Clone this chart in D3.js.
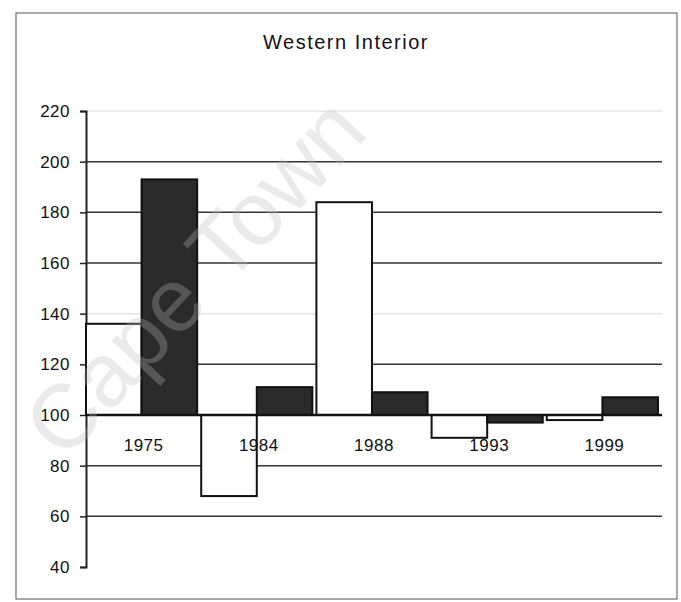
<!DOCTYPE html>
<html>
<head>
<meta charset="utf-8">
<script src="https://cdn.jsdelivr.net/npm/d3@7"></script>
<style>
  body { margin: 0; background: #fff; }
  text { font-family: "Liberation Sans", Arial, sans-serif; }
</style>
</head>
<body>
<div id="chart"></div>
<script>
// values (baseline 100)
var years = ["1975", "1984", "1988", "1993", "1999"];
var whiteSeries = [136, 68, 184, 91, 98];
var darkSeries = [193, 111, 109, 97, 107];
var yTicks = [40, 60, 80, 100, 120, 140, 160, 180, 200, 220];
var title = "Western Interior";

var width = 681, height = 602;
var plotL = 86, plotR = 662, plotT = 111, plotB = 567;

var svg = d3.select("#chart").append("svg")
    .attr("width", width)
    .attr("height", height);

// outer frame
svg.append("rect")
    .attr("x", 16).attr("y", 13)
    .attr("width", 661).attr("height", 586)
    .attr("fill", "none")
    .attr("stroke", "#555")
    .attr("stroke-width", 1);

var y = d3.scaleLinear().domain([40, 220]).range([plotB, plotT]);
var x0 = d3.scaleBand().domain(years).range([plotL, plotR]).paddingInner(0).paddingOuter(0);
var x1 = d3.scaleBand().domain(["w", "d"]).range([0, x0.bandwidth() * 0.965]).padding(0);

// gridlines
svg.append("g").selectAll("line")
    .data(yTicks.filter(function(d) { return d > 40 && d != 100; }))
    .enter().append("line")
    .attr("x1", plotL).attr("x2", plotR)
    .attr("y1", function(d) { return y(d); })
    .attr("y2", function(d) { return y(d); })
    .attr("stroke", function(d) { return (d == 140 || d == 220) ? "#e4e4e4" : "#333"; })
    .attr("stroke-width", 1.5);

// y axis
var yAxis = d3.axisLeft(y).tickValues(yTicks).tickSize(6).tickPadding(10);
var ga = svg.append("g").attr("transform", "translate(" + plotL + ",0)").call(yAxis);
ga.select(".domain").attr("stroke", "#222").attr("stroke-width", 2);
ga.selectAll(".tick line").attr("stroke", "#222").attr("stroke-width", 1.5);
ga.selectAll(".tick text")
    .attr("font-size", "17px")
    .attr("fill", "#111")
    .style("font-family", "'Liberation Sans', Arial, sans-serif")
    .style("letter-spacing", "0.5px");

var rows = years.map(function(yr, i) {
  return [{year: yr, key: "w", v: whiteSeries[i]}, {year: yr, key: "d", v: darkSeries[i]}];
});

var groups = svg.append("g").selectAll("g")
    .data(rows)
    .enter().append("g")
    .attr("transform", function(d) { return "translate(" + x0(d[0].year) + ",0)"; });

groups.selectAll("rect")
    .data(function(d) { return d; })
    .enter().append("rect")
    .attr("x", function(d) { return x1(d.key); })
    .attr("y", function(d) { return Math.min(y(d.v), y(100)); })
    .attr("width", x1.bandwidth())
    .attr("height", function(d) { return Math.abs(y(d.v) - y(100)); })
    .attr("fill", function(d) { return d.key == "w" ? "#fff" : "#2b2b2b"; })
    .attr("stroke", "#111")
    .attr("stroke-width", 2);

// baseline at 100
svg.append("line")
    .attr("x1", plotL).attr("x2", plotR)
    .attr("y1", y(100)).attr("y2", y(100))
    .attr("stroke", "#111")
    .attr("stroke-width", 2.5);

// category labels under the baseline
svg.append("g").selectAll("text")
    .data(years)
    .enter().append("text")
    .attr("x", function(d) { return x0(d) + x0.bandwidth() / 2; })
    .attr("y", y(100) + 36)
    .attr("text-anchor", "middle")
    .attr("font-size", "17px")
    .attr("fill", "#111")
    .style("letter-spacing", "0.5px")
    .text(function(d) { return d; });

// title
svg.append("text")
    .attr("x", 346).attr("y", 49)
    .attr("text-anchor", "middle")
    .attr("font-size", "20px")
    .attr("fill", "#111")
    .style("letter-spacing", "1.5px")
    .text(title);

// scan watermark
svg.append("text")
    .attr("transform", "translate(64,462) rotate(-47)")
    .attr("font-size", "90px")
    .attr("fill", "#bbb")
    .attr("opacity", 0.3)
    .text("Cape Town");
</script>
</body>
</html>
